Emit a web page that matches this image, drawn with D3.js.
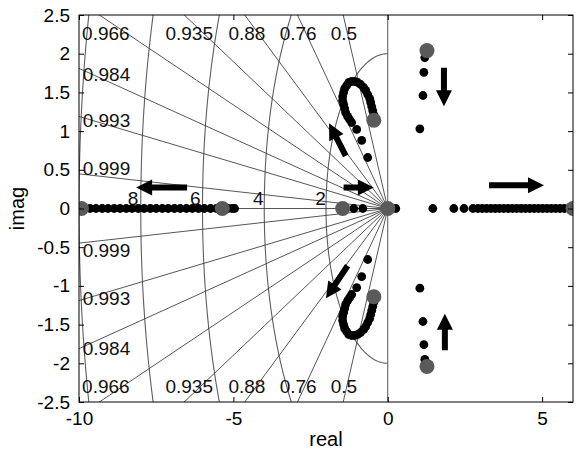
<!DOCTYPE html>
<html><head><meta charset="utf-8">
<script src="https://cdn.jsdelivr.net/npm/d3@7"></script>
<style>
body{margin:0;background:#fff}
text{font-family:"Liberation Sans",Arial,Helvetica,sans-serif}
</style>
</head><body>
<svg id="chart" width="584" height="453"></svg>
<script>
// axis ticks
const xTicks = [-10, -5, 0, 5];
const yTicks = [-2.5, -2, -1.5, -1, -0.5, 0, 0.5, 1, 1.5, 2, 2.5];

// s-plane grid: damping ratios and natural frequencies
const dampingRatios = [0.5, 0.76, 0.88, 0.935, 0.966, 0.984, 0.993, 0.999];
const naturalFreqs = [2, 4, 6, 8, 10];

// grid label texts with their anchor points (real, imag)
const dampLabelText = ["0.966", "0.935", "0.88", "0.76", "0.5", "0.984", "0.993", "0.999",
                       "0.999", "0.993", "0.984", "0.966", "0.935", "0.88", "0.76", "0.5"];
const dampLabelRe = [-9.9, -7.2, -5.16, -3.5, -1.85, -9.88, -9.88, -9.88,
                     -9.88, -9.88, -9.88, -9.9, -7.2, -5.16, -3.5, -1.85];
const dampLabelIm = [2.26, 2.26, 2.26, 2.26, 2.26, 1.74, 1.14, 0.52,
                     -0.54, -1.16, -1.8, -2.29, -2.29, -2.29, -2.29, -2.29];
const freqLabelText = ["8", "6", "4", "2"];
const freqLabelRe = [-8.25, -6.23, -4.19, -2.18];
const freqLabelIm = [0.14, 0.14, 0.14, 0.14];

// open-loop poles / end points (grey markers)
const poleRe = [-9.92, -5.36, -1.46, 0, 6, -0.45, -0.45, 1.27, 1.27];
const poleIm = [0, 0, 0, 0, 0, 1.14, -1.14, 2.04, -2.04];

// locus points on the real axis
const realDotsRe = [-9.84, -9.64, -9.45, -9.25, -9.06, -8.86, -8.67, -8.47, -8.28, -8.08,
  -7.89, -7.69, -7.50, -7.30, -7.11, -6.91, -6.72, -6.52, -6.33, -6.13, -5.94, -5.74,
  -5.55, -5.35, -5.17, -5.04, -4.96,
  -1.10, -0.81,
  0.26, 1.46, 2.14, 2.47,
  2.76, 2.92, 3.06, 3.20, 3.34, 3.48, 3.62, 3.76, 3.90, 4.04, 4.18, 4.32, 4.46, 4.60,
  4.74, 4.88, 5.02, 5.16, 5.30, 5.44, 5.58, 5.72, 5.86];

// complex branch in the left half plane (upper half, mirrored below)
const hookRe = [-0.455, -0.487, -0.519, -0.552, -0.584, -0.649, -0.714, -0.779, -0.877, -0.974,
  -1.071, -1.169, -1.266, -1.331, -1.396, -1.429, -1.461, -1.461, -1.429, -1.396, -1.364,
  -1.299, -1.234, -1.169, -1.006, -0.844, -0.649];
const hookIm = [1.214, 1.266, 1.318, 1.370, 1.421, 1.473, 1.525, 1.563, 1.602, 1.628,
  1.641, 1.641, 1.628, 1.589, 1.550, 1.499, 1.447, 1.395, 1.344, 1.292, 1.240,
  1.189, 1.150, 1.111, 1.021, 0.879, 0.659];

// complex branch in the right half plane (upper half, mirrored below)
const rhpRe = [1.20, 1.17, 1.14, 1.04];
const rhpIm = [1.95, 1.76, 1.46, 1.03];

// direction arrows: start and end (real, imag)
const arrowX1 = [-6.5, -1.43, 3.28, -1.36, -1.30, 1.82, 1.85];
const arrowY1 = [0.27, 0.27, 0.30, 0.68, -0.74, 1.82, -1.83];
const arrowX2 = [-8.15, -0.45, 5.06, -1.90, -2.00, 1.82, 1.85];
const arrowY2 = [0.27, 0.27, 0.30, 1.10, -1.16, 1.32, -1.36];

const svg = d3.select("#chart");
const L = 79, R = 573, T = 15, B = 402;
const x = d3.scaleLinear().domain([-10, 6]).range([L, R]);
const y = d3.scaleLinear().domain([-2.5, 2.5]).range([B, T]);

svg.append("defs").append("clipPath").attr("id", "plotclip")
  .append("rect").attr("x", L).attr("y", T).attr("width", R - L).attr("height", B - T);

const grid = svg.append("g").attr("clip-path", "url(#plotclip)");

// natural frequency arcs
const arcLine = d3.line().x(d => x(d[0])).y(d => y(d[1]));
naturalFreqs.forEach(wn => {
  const pts = d3.range(90, 270.5, 1).map(a => [wn * Math.cos(a * Math.PI / 180), wn * Math.sin(a * Math.PI / 180)]);
  grid.append("path").attr("d", arcLine(pts)).attr("fill", "none")
    .attr("stroke", "#5e5e5e").attr("stroke-width", 1.1);
});

// constant damping rays
const rayLen = 30;
dampingRatios.forEach(z => {
  const s = Math.sqrt(1 - z * z);
  [1, -1].forEach(sg => {
    grid.append("line")
      .attr("x1", x(0)).attr("y1", y(0))
      .attr("x2", x(-z * rayLen)).attr("y2", y(sg * s * rayLen))
      .attr("stroke", "#383838").attr("stroke-width", 0.85);
  });
});
// real axis ray (zeta = 1) and imaginary axis (zeta = 0)
grid.append("line").attr("x1", x(0)).attr("y1", y(0)).attr("x2", x(-10)).attr("y2", y(0))
  .attr("stroke", "#383838").attr("stroke-width", 0.85);
grid.append("line").attr("x1", x(0)).attr("y1", y(-2.5)).attr("x2", x(0)).attr("y2", y(2.5))
  .attr("stroke", "#555").attr("stroke-width", 1);

// grid labels
const lbl = svg.append("g").attr("font-size", 19).attr("fill", "#111");
dampLabelText.forEach((t, i) => {
  lbl.append("text").attr("x", x(dampLabelRe[i])).attr("y", y(dampLabelIm[i]))
    .attr("dy", "0.36em").text(t);
});
freqLabelText.forEach((t, i) => {
  lbl.append("text").attr("x", x(freqLabelRe[i])).attr("y", y(freqLabelIm[i]))
    .attr("dy", "0.36em").attr("text-anchor", "middle").text(t);
});

// locus
const marks = svg.append("g").attr("clip-path", "url(#plotclip)");
const dotR = 4.4;
realDotsRe.forEach(v => marks.append("circle").attr("cx", x(v)).attr("cy", y(0)).attr("r", dotR).attr("fill", "#000"));
[1, -1].forEach(sg => {
  hookRe.forEach((v, i) => marks.append("circle").attr("cx", x(v)).attr("cy", y(sg * hookIm[i])).attr("r", dotR).attr("fill", "#000"));
  rhpRe.forEach((v, i) => marks.append("circle").attr("cx", x(v)).attr("cy", y(sg * rhpIm[i])).attr("r", dotR).attr("fill", "#000"));
});
poleRe.forEach((v, i) => marks.append("circle").attr("cx", x(v)).attr("cy", y(poleIm[i])).attr("r", 7.5).attr("fill", "#5a5a5a"));

// arrows
arrowX1.forEach((_, i) => {
  const x1 = x(arrowX1[i]), y1 = y(arrowY1[i]), x2 = x(arrowX2[i]), y2 = y(arrowY2[i]);
  const dx = x2 - x1, dy = y2 - y1, len = Math.hypot(dx, dy);
  const ux = dx / len, uy = dy / len, nx = -uy, ny = ux;
  const hl = 16, hw = 8, sw = 3;
  const bx = x2 - ux * hl, by = y2 - uy * hl;
  const pts = [
    [x1 + nx * sw, y1 + ny * sw], [bx + nx * sw, by + ny * sw], [bx + nx * hw, by + ny * hw],
    [x2, y2], [bx - nx * hw, by - ny * hw], [bx - nx * sw, by - ny * sw], [x1 - nx * sw, y1 - ny * sw]
  ];
  svg.append("polygon").attr("points", pts.map(p => p.join(",")).join(" ")).attr("fill", "#000");
});

// axes with inward ticks on all four sides
const fmt = d => String(d);
const axB = svg.append("g").attr("transform", `translate(0,${B})`)
  .call(d3.axisBottom(x).tickValues(xTicks).tickSize(-5).tickPadding(10).tickFormat(fmt));
const axT = svg.append("g").attr("transform", `translate(0,${T})`)
  .call(d3.axisTop(x).tickValues(xTicks).tickSize(-5).tickFormat(""));
const axL = svg.append("g").attr("transform", `translate(${L},0)`)
  .call(d3.axisLeft(y).tickValues(yTicks).tickSize(-5).tickPadding(9).tickFormat(fmt));
const axR = svg.append("g").attr("transform", `translate(${R},0)`)
  .call(d3.axisRight(y).tickValues(yTicks).tickSize(-5).tickFormat(""));
[axB, axT, axL, axR].forEach(a => {
  a.select(".domain").remove();
  a.selectAll("line").attr("stroke", "#000");
  a.selectAll("text").attr("font-size", 19).attr("fill", "#000")
    .attr("font-family", '"Liberation Sans",Arial,sans-serif');
});
svg.append("rect").attr("x", L).attr("y", T).attr("width", R - L).attr("height", B - T)
  .attr("fill", "none").attr("stroke", "#000").attr("stroke-width", 1);

// axis titles
svg.append("text").attr("x", (L + R) / 2).attr("y", 446).attr("text-anchor", "middle")
  .attr("font-size", 20).text("real");
svg.append("text").attr("transform", `translate(24,${y(0)}) rotate(-90)`).attr("text-anchor", "middle")
  .attr("font-size", 20).text("imag");
</script>
</body></html>
